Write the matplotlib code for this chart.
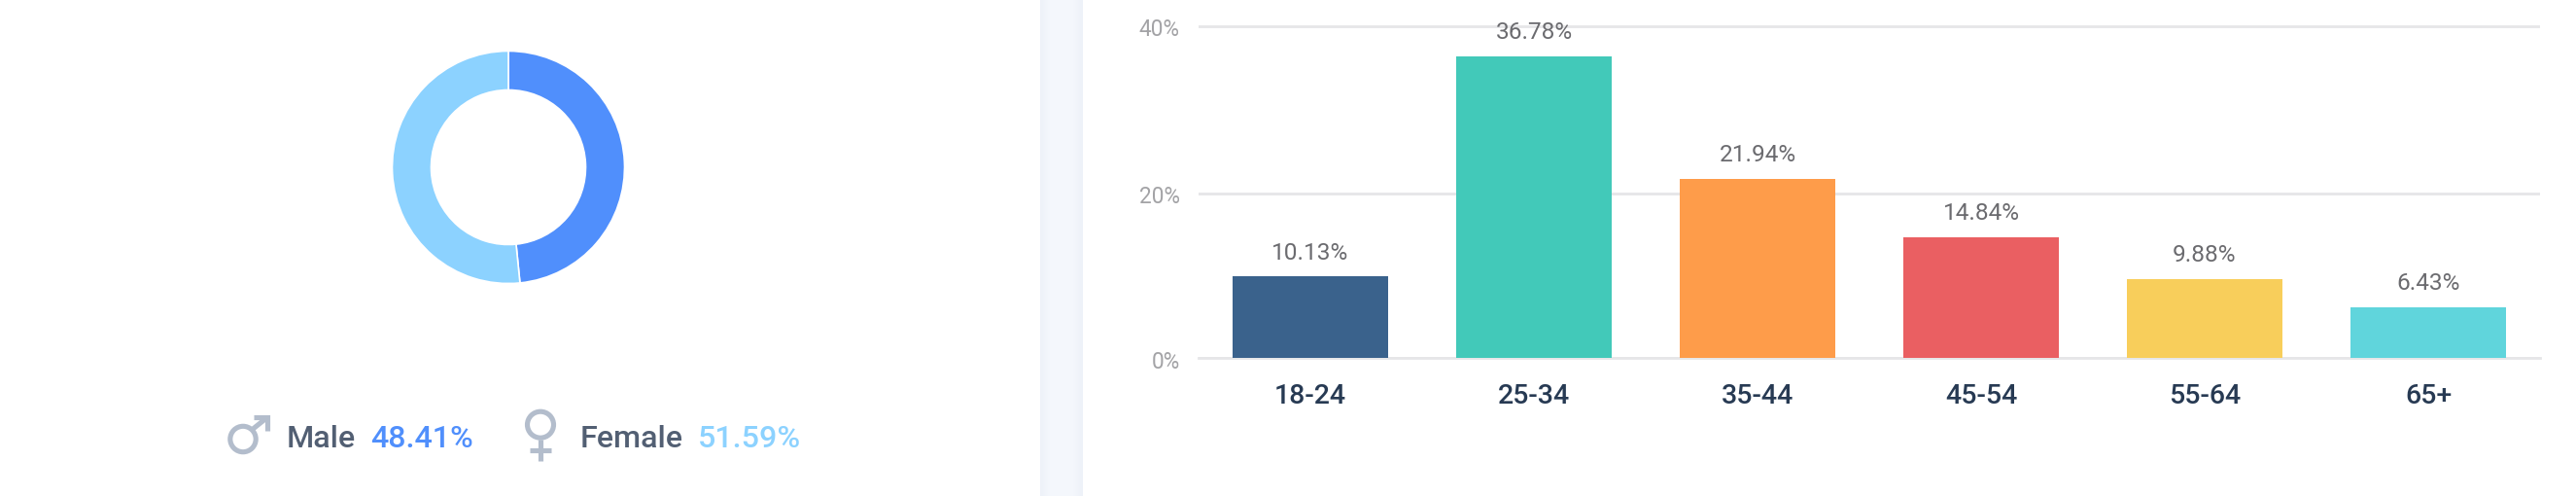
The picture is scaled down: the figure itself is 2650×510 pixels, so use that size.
import matplotlib
matplotlib.use('Agg')
import matplotlib.pyplot as plt
from matplotlib.patches import Circle, Rectangle
from matplotlib.transforms import ScaledTranslation
import numpy as np

W, H = 2650, 510

gender_labels = ['Male', 'Female']
gender_values = [48.41, 51.59]
gender_colors = ['#508FFC', '#8CD2FF']

age_groups = ['18-24', '25-34', '35-44', '45-54', '55-64', '65+']
age_values = [10.13, 36.78, 21.94, 14.84, 9.88, 6.43]
age_colors = ['#3A628C', '#42C9B9', '#FE9C4A', '#EA5F62', '#F8CE5B', '#60D5DC']
y_tick_labels = ['0%', '20%', '40%']
y_tick_pos = [0.25, 20.2, 40.45]

plt.rcParams['font.family'] = ['Roboto', 'DejaVu Sans']


def px_axes(fig, left, top, right, bottom):
    # axes placed by pixel box, y measured from the top of the image
    return fig.add_axes([left / W, 1 - bottom / H, (right - left) / W, (bottom - top) / H])


# the extra fraction stops 5.1 * 100 being floored to 509 pixels
fig = plt.figure(figsize=(W / 100, (H + 0.01) / 100), dpi=100, facecolor='white')

# page background, icons and legend live in pixel space
bg = fig.add_axes([0, 0, 1, 1])
bg.set_xlim(0, W)
bg.set_ylim(H, 0)
bg.axis('off')

# gap between the two cards, with soft shadow on the edges
bg.add_patch(Rectangle((1070, 0), 44, H, facecolor='#F4F7FC', edgecolor='none'))
edge = np.array(matplotlib.colors.to_rgb('#EDF1F8'))
mid = np.array(matplotlib.colors.to_rgb('#F4F7FC'))
for i in range(10):
    c = edge + (mid - edge) * i / 10
    bg.add_patch(Rectangle((1070 + i, 0), 1, H, facecolor=c, edgecolor='none'))
    bg.add_patch(Rectangle((1113 - i, 0), 1, H, facecolor=c, edgecolor='none'))

# donut
half = 125
donut = px_axes(fig, 523 - half, 172 - half, 523 + half, 172 + half)
donut.pie(gender_values, colors=gender_colors, startangle=90, counterclock=False, radius=119.5 / half,
          wedgeprops=dict(width=40 / half, edgecolor='white', linewidth=1.2))
donut.set_xlim(-1, 1)
donut.set_ylim(-1, 1)

# male icon
icon = '#B3BDCC'
icon_lw = 3.7
bg.add_patch(Circle((250, 451.5), 13.2, facecolor='none', edgecolor=icon, linewidth=icon_lw))
bg.plot([259, 274], [442, 430], color=icon, linewidth=icon_lw, solid_capstyle='butt')
bg.plot([261, 274.5, 274.5], [429.5, 429.5, 443], color=icon, linewidth=icon_lw,
        solid_capstyle='butt', solid_joinstyle='miter')

# female icon
bg.add_patch(Circle((556, 436.7), 13.5, facecolor='none', edgecolor=icon, linewidth=icon_lw))
bg.plot([556, 556], [452, 474], color=icon, linewidth=icon_lw, solid_capstyle='butt')
bg.plot([545, 567], [463.5, 463.5], color=icon, linewidth=icon_lw, solid_capstyle='butt')

# legend text
legend_size = 23.2
bg.text(295, 460, gender_labels[0], fontsize=legend_size, color='#525F73', weight='medium', va='baseline')
bg.text(381, 460, '%.2f%%' % gender_values[0], fontsize=legend_size, color=gender_colors[0],
        weight='medium', va='baseline')
bg.text(597, 460, gender_labels[1], fontsize=legend_size, color='#525F73', weight='medium', va='baseline')
bg.text(718, 460, '%.2f%%' % gender_values[1], fontsize=legend_size, color=gender_colors[1],
        weight='medium', va='baseline')

# bars: 8.5 px per percent, zero just under the baseline so the axes bottom clips them
zero_y = 370.6
px_per_unit = 8.5
base_y = 368.5
ax = px_axes(fig, 1233, 0, 2613, base_y)
ax.patch.set_alpha(0)
x = np.arange(len(age_groups))
ax.set_xlim(-0.5, len(age_groups) - 0.5)
ax.set_ylim((zero_y - base_y) / px_per_unit, zero_y / px_per_unit)
ax.set_axisbelow(True)
ax.yaxis.grid(True, color='#E6E6E8', linewidth=2)
ax.bar(x, age_values, width=160 / 230, color=age_colors, zorder=3)

for i, v in enumerate(age_values):
    ax.annotate('%.2f%%' % v, (x[i], v), xytext=(0, 18), textcoords='offset pixels', ha='center', va='baseline',
                fontsize=17.6, color='#6B6B6F', zorder=4)

ax.set_yticks(y_tick_pos)
ax.set_yticklabels(y_tick_labels, fontsize=16.3, color='#A3A3A6')
ax.set_xticks(x)
ax.set_xticklabels(age_groups, fontsize=20.5, color='#273A53', weight='medium')
ax.tick_params(axis='both', length=0)
ax.tick_params(axis='x', pad=18)
ax.tick_params(axis='y', pad=14)
offset = ScaledTranslation(0, -4 / 100, fig.dpi_scale_trans)
for lbl in ax.get_yticklabels():
    lbl.set_va('center')
    lbl.set_transform(lbl.get_transform() + offset)
for s in ['top', 'right', 'left']:
    ax.spines[s].set_visible(False)
ax.spines['bottom'].set_color('#E6E6E8')
ax.spines['bottom'].set_linewidth(2)
ax.spines['bottom'].set_zorder(2)

fig.savefig('out.png', dpi=100)
